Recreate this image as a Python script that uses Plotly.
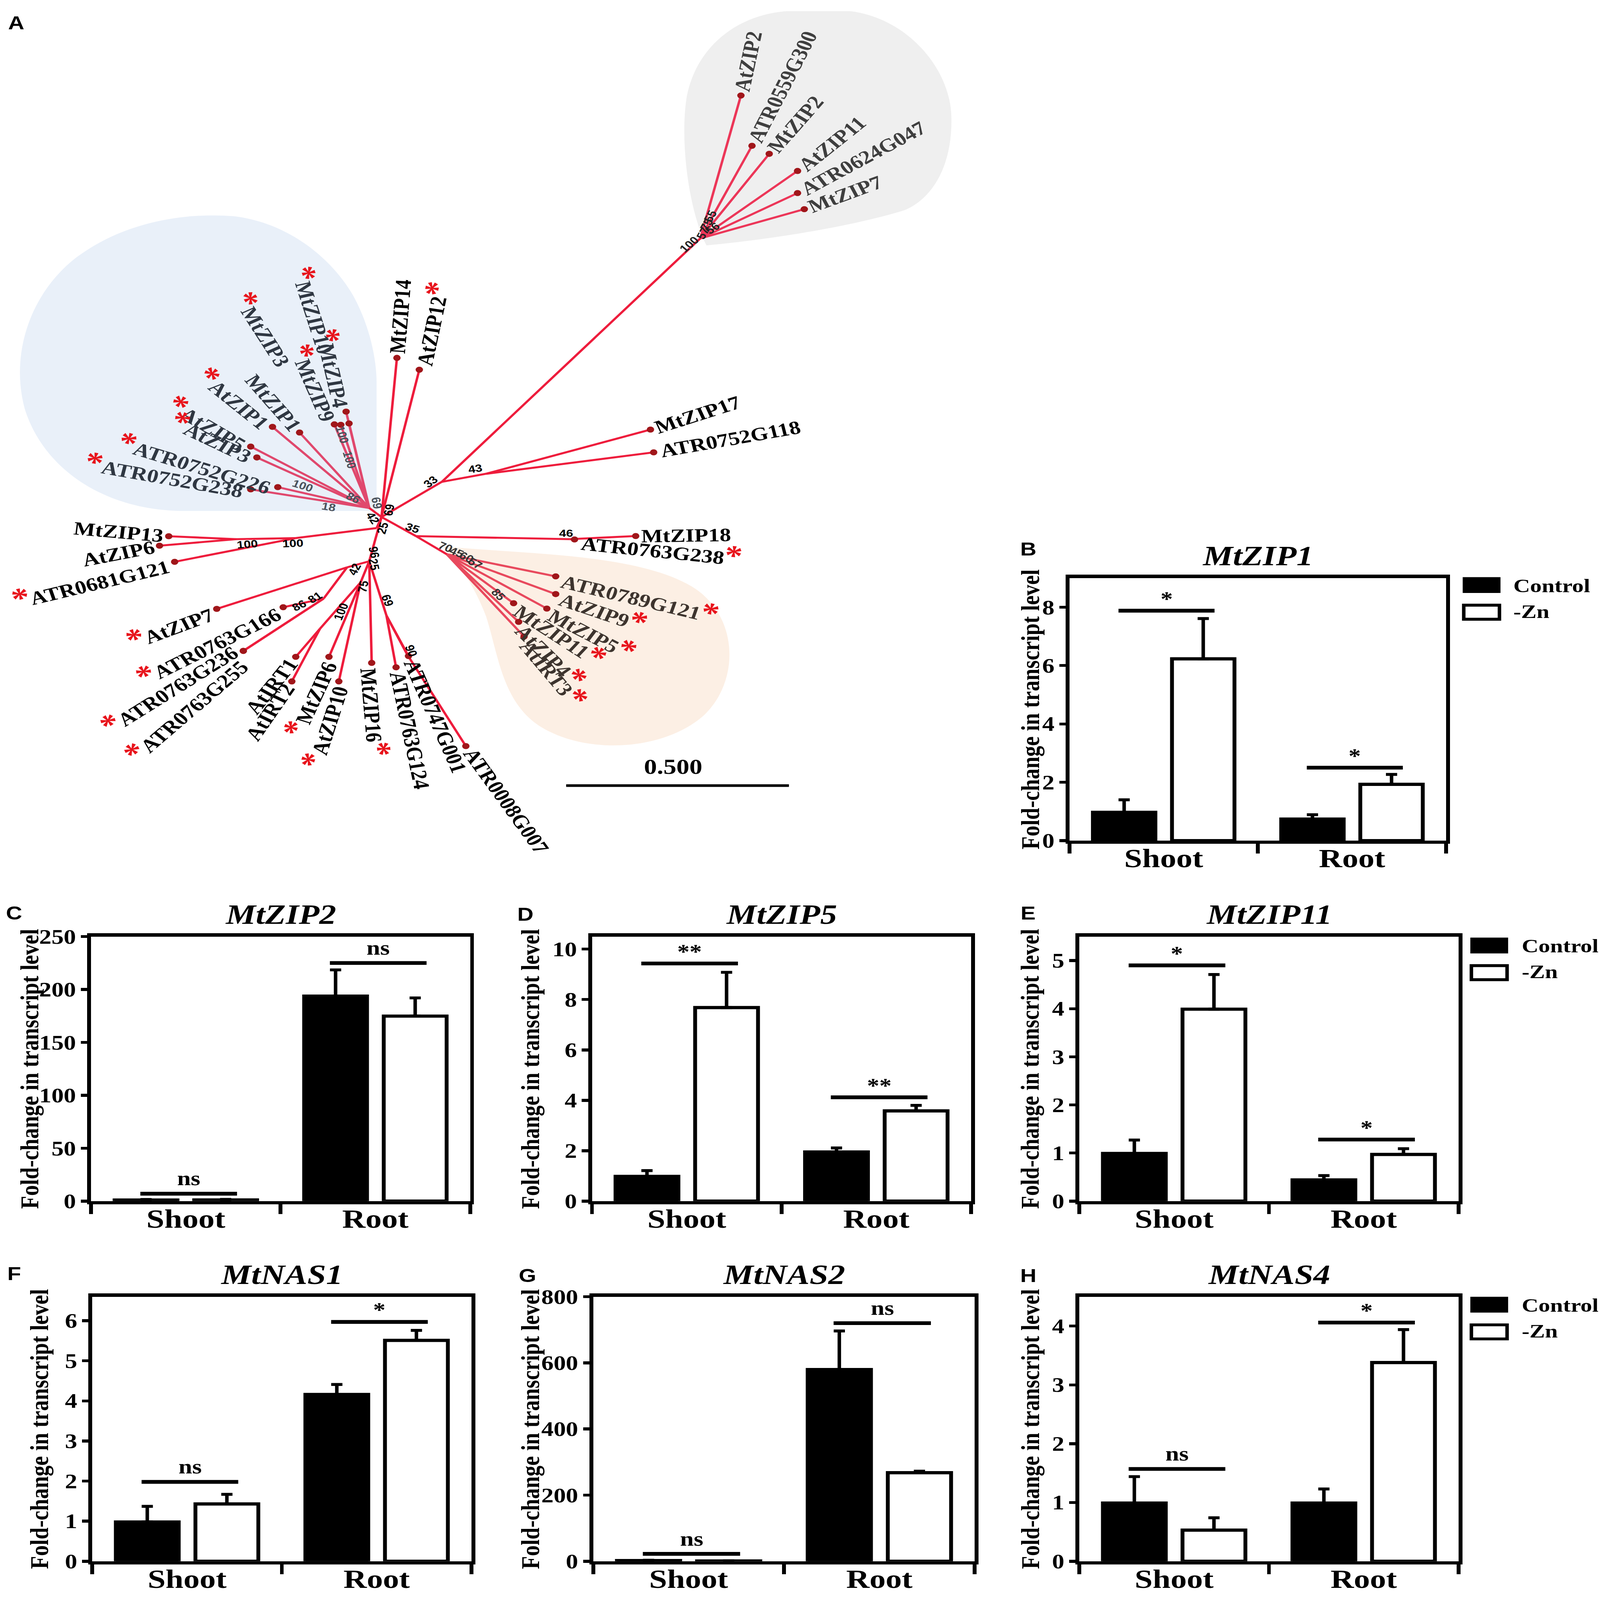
import math
import plotly.graph_objects as go

# ======================= DATA =======================
categories = ["Shoot", "Root"]
series_names = ["Control", "-Zn"]

mtzip1_control = [0.97, 0.74]
mtzip1_control_sd = [0.43, 0.15]
mtzip1_zn = [6.23, 1.93]
mtzip1_zn_sd = [1.38, 0.34]
mtzip1_sig = ["*", "*"]
mtzip1_sig_level = [7.88, 2.50]
mtzip1_ticks = [0, 2, 4, 6, 8]

mtzip2_control = [1.0, 193.7]
mtzip2_control_sd = [0.5, 24.8]
mtzip2_zn = [1.1, 174.8]
mtzip2_zn_sd = [0.5, 17.2]
mtzip2_sig = ["ns", "ns"]
mtzip2_sig_level = [7.0, 225.0]
mtzip2_ticks = [0, 50, 100, 150, 200, 250]

mtzip5_control = [0.98, 1.95]
mtzip5_control_sd = [0.23, 0.16]
mtzip5_zn = [7.68, 3.58]
mtzip5_zn_sd = [1.40, 0.22]
mtzip5_sig = ["**", "**"]
mtzip5_sig_level = [9.43, 4.12]
mtzip5_ticks = [0, 2, 4, 6, 8, 10]

mtzip11_control = [0.99, 0.44]
mtzip11_control_sd = [0.28, 0.09]
mtzip11_zn = [3.99, 0.97]
mtzip11_zn_sd = [0.72, 0.12]
mtzip11_sig = ["*", "*"]
mtzip11_sig_level = [4.90, 1.28]
mtzip11_ticks = [0, 1, 2, 3, 4, 5]

mtnas1_control = [0.98, 4.16]
mtnas1_control_sd = [0.39, 0.25]
mtnas1_zn = [1.43, 5.51]
mtnas1_zn_sd = [0.24, 0.25]
mtnas1_sig = ["ns", "*"]
mtnas1_sig_level = [1.98, 5.97]
mtnas1_ticks = [0, 1, 2, 3, 4, 5, 6]

mtnas2_control = [2.0, 579.7]
mtnas2_control_sd = [1.0, 116.6]
mtnas2_zn = [1.0, 267.8]
mtnas2_zn_sd = [0.5, 4.7]
mtnas2_sig = ["ns", "ns"]
mtnas2_sig_level = [22.4, 720.0]
mtnas2_ticks = [0, 200, 400, 600, 800]

mtnas4_control = [0.99, 0.99]
mtnas4_control_sd = [0.45, 0.24]
mtnas4_zn = [0.53, 3.38]
mtnas4_zn_sd = [0.21, 0.56]
mtnas4_sig = ["ns", "*"]
mtnas4_sig_level = [1.57, 4.06]
mtnas4_ticks = [0, 1, 2, 3, 4]

# ---- phylogenetic tree (coordinates of the unrooted layout) ----
node_names = ["H0", "N33", "G0", "N43", "N35", "N46", "N70", "B0", "NL", "Na", "Nb",
              "N96", "N42", "N81", "N75", "N100b", "N69", "N90"]
node_x = [310, 359, 569, 395, 338, 463, 363, 300, 306, 240, 192,
          300, 282, 263, 293, 260, 314, 331]
node_y = [503, 468, 226, 460, 522, 525, 540, 494, 514, 524, 525,
          547, 553, 584, 568, 614, 601, 640]
node_parent = [None, "H0", "N33", "N33", "H0", "N35", "N35", "H0", "H0", "NL", "Na",
               "H0", "N96", "N42", "N96", "N75", "N96", "N69"]

leaf_names = ["AtZIP2", "ATR0559G300", "MtZIP2", "AtZIP11", "ATR0624G047", "MtZIP7",
              "MtZIP4", "MtZIP10", "MtZIP9", "MtZIP3", "MtZIP1", "AtZIP1", "AtZIP5", "AtZIP3",
              "ATR0752G226", "ATR0752G238",
              "ATR0789G121", "AtZIP9", "MtZIP5", "MtZIP11", "AtZIP4", "AtIRT3",
              "MtZIP14", "AtZIP12", "MtZIP17", "ATR0752G118", "MtZIP18", "ATR0763G238",
              "MtZIP13", "AtZIP6", "ATR0681G121", "AtZIP7", "ATR0763G166", "ATR0763G236",
              "ATR0763G255", "AtIRT1", "AtIRT2", "MtZIP6", "AtZIP10", "MtZIP16",
              "ATR0763G124", "ATR0747G001", "ATR0008G007"]
leaf_x = [602, 611, 625, 648, 648, 653.5,
          281.2, 283.6, 271.7, 276.9, 243.4, 221.4, 203.7, 208.7,
          225.7, 203.7,
          451.5, 451.5, 444.3, 417.3, 421.4, 425.8,
          322.5, 340.7, 528.5, 531.1, 516.5, 466.8,
          137.1, 129.6, 141.9, 176.1, 230.1, 197.7,
          197.7, 240.3, 237.1, 267.3, 275.3, 302.0,
          321.8, 331.9, 378.5]
leaf_y = [84, 134, 142, 159, 181, 197,
          398.2, 410.0, 410.9, 411.3, 419.0, 413.4, 433.0, 443.8,
          473.3, 475.5,
          562.0, 579.6, 594.0, 588.7, 607.2, 621.8,
          344.8, 356.6, 416.1, 438.7, 521.9, 525.3,
          522.1, 531.5, 547.5, 594.3, 592.7, 636.1,
          636.1, 642.0, 666.4, 642.0, 666.4, 648.0,
          652.4, 641.2, 730.7]
leaf_parent = ["G0"] * 6 + ["B0"] * 10 + ["N70"] * 6 + \
              ["H0", "H0", "N43", "N43", "N46", "N46",
               "Nb", "Nb", "Na", "N42", "N81", "N81",
               "N81", "N100b", "N100b", "N75", "N75", "N96",
               "N69", "N69", "N90"]
leaf_star = [0, 0, 0, 0, 0, 0,
             1, 1, 1, 1, 0, 1, 1, 1, 1, 1,
             1, 1, 1, 1, 1, 1,
             0, 1, 0, 0, 0, 1,
             0, 0, 1, 1, 1, 1,
             1, 0, 0, 1, 1, 1,
             0, 0, 0]
leaf_clade = ["gray"] * 6 + ["blue"] * 10 + ["orange"] * 6 + ["none"] * 21

bootstrap_values = ["100", "57", "75", "55", "56", "33", "43", "35", "46", "70", "45", "60",
                    "57", "85", "69", "25", "42", "69", "86", "18", "100", "100", "100",
                    "100", "100", "86", "81", "42", "100", "75", "96", "25", "69", "90"]
scale_bar_label = "0.500"

# ======================= LAYOUT CONSTANTS =======================
W, H = 4562, 5529
TW, TH = 1300.0, 1568.0
SX = W / TW
SERIF = "Liberation Serif"
SANS = "Liberation Sans"


def px(t):
    return t / TW


def py(t):
    return 1 - t / TH


# bootstrap label placement (x, y, angle, colour)
BOOT_POS = [(560, 232, -45, "#222"), (571, 221, -65, "#222"), (574, 212, -65, "#222"),
            (577, 204, -65, "#222"), (579, 216, -40, "#222"), (350, 468, -42, "#000"),
            (386, 455, -10, "#000"), (335, 514, 20, "#000"), (460, 519, 0, "#000"),
            (362, 533, 25, "#333"), (371, 538, 25, "#333"), (379, 543, 30, "#333"),
            (386, 549, 35, "#333"), (405, 580, 50, "#333"), (316, 496, -80, "#000"),
            (311, 514, -75, "#000"), (303, 504, 60, "#000"), (306, 489, 80, "#4a525c"),
            (287, 484, 30, "#4a525c"), (267, 493, 10, "#4a525c"), (246, 472, 20, "#4a525c"),
            (284, 446, 75, "#4a525c"), (278, 421, 75, "#4a525c"), (201, 530, -5, "#000"),
            (238, 529, -3, "#000"), (243, 591, -30, "#000"), (256, 583, -35, "#000"),
            (288, 555, -65, "#000"), (277, 597, -70, "#000"), (295, 572, -80, "#000"),
            (304, 538, 80, "#000"), (304, 550, 80, "#000"), (315, 586, 70, "#000"),
            (334, 636, 70, "#000")]

LABEL_ANGLE = {"AtZIP2": -80, "ATR0559G300": -67, "MtZIP2": -54, "AtZIP11": -44,
               "ATR0624G047": -33, "MtZIP7": -24,
               "MtZIP4": 79, "MtZIP10": 75, "MtZIP9": 70, "MtZIP3": 62, "MtZIP1": 54,
               "AtZIP1": 44, "AtZIP5": 35, "AtZIP3": 30, "ATR0752G226": 20, "ATR0752G238": 12,
               "ATR0789G121": 16, "AtZIP9": 22, "MtZIP5": 32, "MtZIP11": 38, "AtZIP4": 50,
               "AtIRT3": 55,
               "MtZIP14": -86, "AtZIP12": -80, "MtZIP17": -21, "ATR0752G118": -12,
               "MtZIP18": -1, "ATR0763G238": 7,
               "MtZIP13": 6, "AtZIP6": -13, "ATR0681G121": -16, "AtZIP7": -24,
               "ATR0763G166": -31, "ATR0763G236": -37, "ATR0763G255": -46,
               "AtIRT1": -56, "AtIRT2": -60, "MtZIP6": -69, "AtZIP10": -75, "MtZIP16": 86,
               "ATR0763G124": 80, "ATR0747G001": 70, "ATR0008G007": 59}
LABEL_END = {"MtZIP3": (236, 355), "MtZIP10": (269, 344),
             "ATR0763G236": (194, 630), "ATR0763G255": (200, 643)}

CLADE_EDGE = {"gray": "#ec3658", "blue": "#e0486d", "orange": "#e8495d", "none": "#ee1c3c"}
CLADE_TEXT = {"gray": "#3e3e3e", "blue": "#2f3742", "orange": "#3d342e", "none": "#000000"}
DOT = "#a0161a"
STAR = "#e8141c"
TREE_FONT = 65
STAR_FONT = 100
LABEL_GAP = 4.5

EM = {'A': .722, 'B': .667, 'C': .722, 'G': .778, 'I': .389, 'M': .944, 'P': .611,
      'R': .722, 'T': .667, 'Z': .667, 't': .333}


def text_len(s):
    return sum(EM.get(c, 0.5) for c in s) * TREE_FONT / SX


fig = go.Figure()
annotations = []
shapes = []


def ann(x, y, text, size, xref="paper", yref="paper", angle=0, color="black",
        family=SERIF, weight="bold", style="normal", xanchor="center",
        yanchor="middle", yshift=0):
    return dict(x=x, y=y, xref=xref, yref=yref, text=text, showarrow=False,
                textangle=angle, xanchor=xanchor, yanchor=yanchor, yshift=yshift,
                font=dict(family=family, size=size, color=color, weight=weight, style=style))


# ======================= TREE (panel A) =======================
pos = {n: (x, y) for n, x, y in zip(node_names, node_x, node_y)}
par = dict(zip(node_names, node_parent))

BLOBS = [
    ("M 574,233 C 560,200 552,130 558,85 C 565,40 595,4 640,0 L 690,0 C 735,6 772,55 773,105 "
     "C 774,150 760,185 735,198 C 690,215 620,228 574,233 Z", "#efefef"),
    ("M 306,497 L 150,497 C 85,497 35,455 20,395 C 8,340 25,280 62,245 C 100,210 150,200 190,204 "
     "C 232,210 268,243 287,283 C 300,312 306,345 306,370 Z", "#e9f0f9"),
    ("M 360,532 C 420,540 515,538 562,572 C 600,600 602,665 572,700 C 540,735 478,740 440,712 "
     "C 408,688 405,640 395,602 C 385,570 372,548 360,532 Z", "#fcefe4"),
]
for path, col in BLOBS:
    shapes.append(dict(type="path", path=path, xref="x8", yref="y8", fillcolor=col,
                       line=dict(width=0), layer="below"))

edges = {k: ([], []) for k in CLADE_EDGE}
for n in node_names:
    p = par[n]
    if p is None:
        continue
    ex, ey = edges["none"]
    ex += [pos[p][0], pos[n][0], None]
    ey += [pos[p][1], pos[n][1], None]
for name, x, y, p, cl in zip(leaf_names, leaf_x, leaf_y, leaf_parent, leaf_clade):
    ex, ey = edges[cl]
    ex += [pos[p][0], x, None]
    ey += [pos[p][1], y, None]
for cl, (ex, ey) in edges.items():
    fig.add_trace(go.Scatter(x=ex, y=ey, mode="lines", xaxis="x8", yaxis="y8",
                             line=dict(color=CLADE_EDGE[cl], width=7), hoverinfo="skip",
                             showlegend=False))
fig.add_trace(go.Scatter(x=leaf_x, y=leaf_y, mode="markers", xaxis="x8", yaxis="y8",
                         marker=dict(color=DOT, size=21), hoverinfo="skip", showlegend=False,
                         text=leaf_names))

star_html = '<span style="color:%s;font-size:%dpx">*</span>' % (STAR, STAR_FONT)
star_len = 0.55 * STAR_FONT / SX
for name, x, y, p, st, cl in zip(leaf_names, leaf_x, leaf_y, leaf_parent, leaf_star, leaf_clade):
    a = math.radians(LABEL_ANGLE[name])
    ux, uy = math.cos(a), math.sin(a)
    outward = (x - pos[p][0]) >= 0
    L = text_len(name) + (star_len if st else 0)
    ex0, ey0 = LABEL_END.get(name, (x, y))
    d = LABEL_GAP + L / 2
    if outward:
        cx, cy = ex0 + ux * d, ey0 + uy * d
        txt = name + (star_html if st else "")
    else:
        cx, cy = ex0 - ux * d, ey0 - uy * d
        txt = (star_html if st else "") + name
    annotations.append(ann(cx, cy, txt, TREE_FONT, xref="x8", yref="y8",
                           angle=LABEL_ANGLE[name], color=CLADE_TEXT[cl]))

for v, (bx, by, ba, bc) in zip(bootstrap_values, BOOT_POS):
    annotations.append(ann(bx, by, v, 36, xref="x8", yref="y8", angle=ba, color=bc,
                           family=SANS))

shapes.append(dict(type="line", xref="x8", yref="y8", x0=460, x1=641, y0=770, y1=770,
                   line=dict(color="black", width=9)))
annotations.append(ann(547, 751, scale_bar_label, 74, xref="x8", yref="y8"))

annotations.append(ann(px(13), py(1), "A", 64, family=SANS, yanchor="top"))

# ======================= BAR PANELS =======================
GENE_DATA = [
    ("MtZIP1", mtzip1_control, mtzip1_control_sd, mtzip1_zn, mtzip1_zn_sd, mtzip1_sig, mtzip1_sig_level, mtzip1_ticks),
    ("MtZIP2", mtzip2_control, mtzip2_control_sd, mtzip2_zn, mtzip2_zn_sd, mtzip2_sig, mtzip2_sig_level, mtzip2_ticks),
    ("MtZIP5", mtzip5_control, mtzip5_control_sd, mtzip5_zn, mtzip5_zn_sd, mtzip5_sig, mtzip5_sig_level, mtzip5_ticks),
    ("MtZIP11", mtzip11_control, mtzip11_control_sd, mtzip11_zn, mtzip11_zn_sd, mtzip11_sig, mtzip11_sig_level, mtzip11_ticks),
    ("MtNAS1", mtnas1_control, mtnas1_control_sd, mtnas1_zn, mtnas1_zn_sd, mtnas1_sig, mtnas1_sig_level, mtnas1_ticks),
    ("MtNAS2", mtnas2_control, mtnas2_control_sd, mtnas2_zn, mtnas2_zn_sd, mtnas2_sig, mtnas2_sig_level, mtnas2_ticks),
    ("MtNAS4", mtnas4_control, mtnas4_control_sd, mtnas4_zn, mtnas4_zn_sd, mtnas4_sig, mtnas4_sig_level, mtnas4_ticks),
]
PANELS = [
    ("B", 869, 1175, 563.6, 824.7, 9.0, (835.5, 535), 837, (1189.3, 563.6, 1229)),
    ("C", 74, 382, 920, 1183, 250, (11.4, 897), 24, None),
    ("D", 481, 789, 920, 1183, 10.5, (427, 898), 431, None),
    ("E", 877, 1185, 920, 1183, 5.5, (835.5, 897), 837, (1195.5, 921.9, 1236)),
    ("F", 75, 383, 1278, 1541, 6.6, (11.4, 1255), 32, None),
    ("G", 482, 792, 1278, 1541, 800, (428.5, 1257), 431, None),
    ("H", 877, 1185, 1278, 1541, 4.5, (835.5, 1257), 837, (1195.5, 1279, 1236)),
]

layout_axes = {}
for k, (gd, pnl) in enumerate(zip(GENE_DATA, PANELS), start=1):
    gene, ctrl, ctrl_sd, zn, zn_sd, sig, sig_lv, ticks = gd
    letter, x0, x1, y0, y1, ymax, lpos, ytx, leg = pnl
    xa = "x" if k == 1 else "x%d" % k
    ya = "y" if k == 1 else "y%d" % k
    fig.add_trace(go.Bar(x=categories, y=ctrl, name=series_names[0], xaxis=xa, yaxis=ya,
                         marker=dict(color="black", line=dict(color="black", width=11)),
                         error_y=dict(type="data", array=ctrl_sd, arrayminus=[0] * len(ctrl_sd),
                                      symmetric=False, color="black", thickness=10, width=16),
                         showlegend=False))
    fig.add_trace(go.Bar(x=categories, y=zn, name=series_names[1], xaxis=xa, yaxis=ya,
                         marker=dict(color="white", line=dict(color="black", width=11)),
                         error_y=dict(type="data", array=zn_sd, arrayminus=[0] * len(zn_sd),
                                      symmetric=False, color="black", thickness=10, width=16),
                         showlegend=False))
    axk = "" if k == 1 else str(k)
    layout_axes["xaxis" + axk] = dict(
        domain=[px(x0), px(x1)], anchor=ya, type="category", range=[-0.5, 1.5],
        showline=True, linecolor="black", linewidth=11, mirror=True,
        ticks="outside", tickson="boundaries", ticklen=34, tickwidth=11, tickcolor="black",
        tickfont=dict(family=SERIF, size=92, color="black", weight="bold"),
        ticklabelstandoff=-30, showgrid=False, zeroline=False, fixedrange=True)
    layout_axes["yaxis" + axk] = dict(
        domain=[py(y1), py(y0)], anchor=xa, range=[0, ymax], tickvals=ticks,
        showline=True, linecolor="black", linewidth=11, mirror=True,
        ticks="outside", ticklen=18, tickwidth=10, tickcolor="black",
        tickfont=dict(family=SERIF, size=70, color="black", weight="bold"),
        showgrid=False, zeroline=False, fixedrange=True)
    for i, (s, lv) in enumerate(zip(sig, sig_lv)):
        shapes.append(dict(type="line", xref=xa, yref=ya, x0=i - 0.24, x1=i + 0.27,
                           y0=lv, y1=lv, line=dict(color="black", width=13)))
        annotations.append(ann(i + 0.015, lv, s, 70, xref=xa, yref=ya, yanchor="bottom",
                               yshift=(12 if s == "ns" else 0)))
    annotations.append(ann(px((x0 + x1) / 2), py(y0 - 22), gene, 96, style="italic"))
    annotations.append(ann(px(ytx), py((y0 + y1) / 2), "Fold-change in transcript level", 74,
                           angle=-90))
    annotations.append(ann(px(lpos[0]), py(lpos[1]), letter, 64, family=SANS))
    if leg is not None:
        lx, ly, tx = leg
        shapes.append(dict(type="rect", xref="paper", yref="paper", x0=px(lx), x1=px(lx + 29),
                           y0=py(ly + 14), y1=py(ly), fillcolor="black",
                           line=dict(color="black", width=6)))
        shapes.append(dict(type="rect", xref="paper", yref="paper", x0=px(lx), x1=px(lx + 29),
                           y0=py(ly + 41), y1=py(ly + 27), fillcolor="white",
                           line=dict(color="black", width=10)))
        annotations.append(ann(px(tx), py(ly + 7.5), series_names[0], 66, xanchor="left"))
        annotations.append(ann(px(tx), py(ly + 33), series_names[1], 66, xanchor="left"))

layout_axes["xaxis8"] = dict(domain=[0, 800 / TW], range=[0, 800], visible=False,
                             fixedrange=True, anchor="y8")
layout_axes["yaxis8"] = dict(domain=[1 - 880 / TH, 1], range=[880, 0], visible=False,
                             fixedrange=True, anchor="x8")

fig.update_layout(
    width=W, height=H, margin=dict(l=0, r=0, t=0, b=0),
    paper_bgcolor="white", plot_bgcolor="rgba(0,0,0,0)",
    barmode="group", bargap=0.16, bargroupgap=0.21,
    showlegend=False, annotations=annotations, shapes=shapes,
    **layout_axes)

# the browser window can be smaller than the requested page: stretch the figure
# so that it exactly fills the visible window
FIT_JS = """
var gd = document.getElementById('{plot_id}');
document.documentElement.style.margin = '0';
document.documentElement.style.overflow = 'hidden';
document.body.style.margin = '0';
document.body.style.overflow = 'hidden';
function fitFigure() {
  var sx = window.innerWidth / %d, sy = window.innerHeight / %d;
  if (Math.abs(sx - 1) > 0.002 || Math.abs(sy - 1) > 0.002) {
    gd.style.transformOrigin = '0 0';
    gd.style.transform = 'scale(' + sx + ',' + sy + ')';
  } else {
    gd.style.transform = '';
  }
}
fitFigure();
window.addEventListener('resize', fitFigure);
""" % (W, H)

fig.write_html("out.html", post_script=FIT_JS, config={"displayModeBar": False})
